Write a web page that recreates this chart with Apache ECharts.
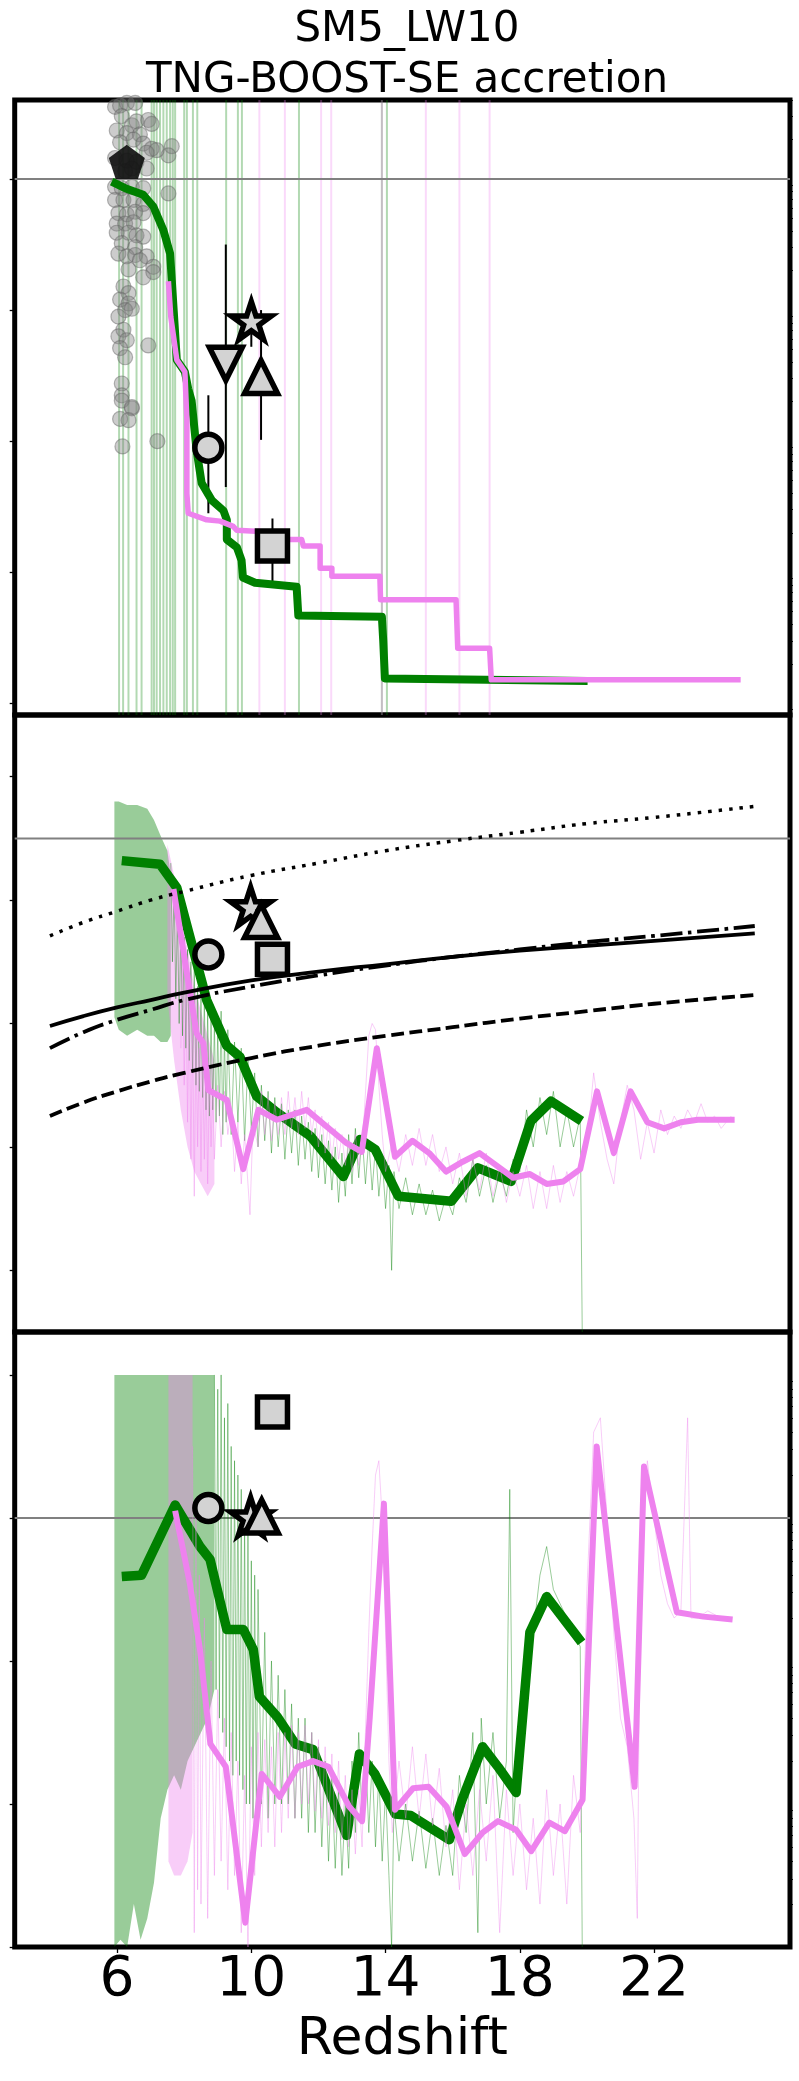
<!DOCTYPE html>
<html><head><meta charset="utf-8">
<script src="https://cdn.jsdelivr.net/npm/echarts@6/dist/echarts.min.js"></script>
<style>html,body{margin:0;padding:0;background:#fff}#c{width:799px;height:2081px}</style>
</head><body><div id="c"></div>
<script>
// ---------------- DATA ----------------
const titleLines = ['SM5_LW10', 'TNG-BOOST-SE accretion'];
const xTickLabels = [6, 10, 14, 18, 22];
const xLabel = 'Redshift';

// Panel 1 (log BH mass)
const refLine1 = 8;
const vGreen1 = [6.06,6.18,6.34,6.58,6.73,7.03,7.1,7.18,7.28,7.38,7.48,7.58,7.66,7.73,8.0,8.08,8.26,8.39,9.25,9.6,9.72,11.42,13.89,14.04];
const vViolet1 = [10.24,11.0,12.08,12.38,13.89,15.2,16.2,17.1];
const scatZ1 = [5.94,6.09,6.29,6.54,6.14,6.44,6.58,6.93,7.03,5.99,6.29,6.68,6.09,6.49,6.78,7.03,7.63,7.53,7.18,6.88,5.94,6.29,6.58,6.88,6.24,6.44,5.94,6.14,6.44,6.78,7.53,5.94,6.19,6.49,6.78,6.04,6.29,6.54,6.78,5.99,6.24,6.49,5.99,6.34,6.58,6.78,6.14,6.54,6.04,6.29,6.54,6.88,7.08,6.34,6.78,7.08,6.68,6.19,6.34,6.09,6.34,6.24,6.44,6.04,6.19,6.04,6.29,6.09,6.24,6.93,6.14,6.14,6.44,6.09,6.14,6.44,6.34,6.16,7.20];
const scatY1 = [8.55,8.56,8.58,8.58,8.48,8.41,8.44,8.45,8.42,8.37,8.35,8.34,8.28,8.30,8.27,8.23,8.25,8.18,8.22,8.20,8.16,8.14,8.13,8.08,8.06,8.08,7.94,7.93,7.94,7.93,7.89,7.84,7.84,7.84,7.81,7.74,7.73,7.75,7.74,7.66,7.66,7.67,7.59,7.59,7.57,7.56,7.51,7.48,7.43,7.41,7.42,7.41,7.33,7.31,7.25,7.29,7.38,7.18,7.13,7.08,7.05,7.00,7.01,6.95,6.85,6.80,6.77,6.71,6.64,6.73,6.44,6.35,6.25,6.17,6.31,6.26,6.16,5.96,6.00];
const green1 = [[5.84,7.98],[6.24,7.93],[6.78,7.88],[7.08,7.79],[7.38,7.61],[7.58,7.43],[7.63,7.23],[7.78,6.62],[8.02,6.53],[8.12,6.4],[8.22,6.31],[8.37,5.93],[8.52,5.68],[8.82,5.55],[9.17,5.47],[9.27,5.40],[9.27,5.25],[9.57,5.19],[9.71,5.09],[9.75,4.96],[10.11,4.92],[11.35,4.89],[11.4,4.67],[13.89,4.66],[13.93,4.48],[13.98,4.19],[20.02,4.17]];
const violet1 = [[7.53,7.22],[7.6,6.95],[7.78,6.62],[8.02,6.53],[8.08,6.16],[8.08,5.6],[8.12,5.45],[8.67,5.40],[9.07,5.39],[9.46,5.35],[9.57,5.32],[10.26,5.31],[10.9,5.29],[10.95,5.25],[11.5,5.25],[11.55,5.2],[12.05,5.2],[12.05,5.03],[12.4,5.03],[12.4,4.97],[13.83,4.97],[13.85,4.79],[16.1,4.79],[16.15,4.42],[17.1,4.42],[17.15,4.18],[24.58,4.18]];
// markers: circle, downTriangle, star, upTriangle, square, pentagon
const mkZ1 = [8.72, 9.24, 10.0, 10.29, 10.63, 6.29];
const mkY1 = [5.95, 6.59, 6.92, 6.49, 5.20, 8.13];
const errLo1 = [5.45, 5.65, 6.72, 6.01, 4.91, null];
const errHi1 = [6.35, 7.50, 7.10, 7.00, 5.41, null];

// Panel 2
const refLine2 = 3.5;
const curveZ = [4,5,6,7,8,10,12,14,16,18,20,22,25];
const curveSolid = [1.98,2.06,2.13,2.19,2.25,2.35,2.42,2.48,2.54,2.59,2.63,2.67,2.73];
const curveDashDot = [1.80,1.93,2.03,2.11,2.19,2.30,2.39,2.47,2.54,2.60,2.66,2.71,2.79];
const curveDotted = [2.71,2.82,2.91,3.00,3.07,3.20,3.30,3.40,3.48,3.55,3.62,3.67,3.76];
const curveDashed = [1.25,1.36,1.45,1.53,1.60,1.72,1.82,1.90,1.97,2.04,2.10,2.16,2.23];
const green2 = [[6.14,3.32],[7.28,3.29],[7.78,3.10],[8.67,2.19],[9.27,1.82],[9.66,1.73],[10.16,1.41],[10.76,1.28],[11.75,1.09],[12.74,0.76],[13.24,1.06],[13.69,0.98],[14.38,0.60],[15.96,0.56],[16.75,0.83],[17.74,0.72],[18.33,1.21],[18.93,1.37],[19.84,1.21]];
const violet2 = [[7.68,3.09],[8.37,1.92],[8.57,1.84],[8.72,1.46],[9.27,1.38],[9.76,0.82],[10.21,1.30],[10.76,1.22],[11.65,1.30],[12.84,1.03],[13.29,0.96],[13.74,1.80],[14.28,0.92],[14.8,1.05],[15.3,0.95],[15.8,0.8],[16.3,0.88],[16.8,0.95],[17.3,0.85],[17.8,0.75],[18.3,0.78],[18.8,0.7],[19.3,0.72],[19.8,0.82],[20.3,1.45],[20.8,0.95],[21.3,1.45],[21.8,1.2],[22.3,1.15],[22.8,1.2],[23.3,1.22],[23.8,1.22],[24.4,1.22]];
const gBandZ2 = [5.92,6.05,6.3,6.6,6.9,7.1,7.3,7.5,7.6];
const gBandHi2 = [3.80,3.80,3.77,3.77,3.74,3.65,3.52,3.40,3.2];
const gBandLo2 = [2.05,1.95,1.90,1.95,1.90,1.90,1.85,1.85,1.90];
const vBandZ2 = [7.5,7.7,7.9,8.1,8.3,8.5,8.7,8.9];
const vBandHi2 = [3.45,3.2,2.9,2.6,2.3,2.1,1.9,1.7];
const vBandLo2 = [2.2,1.7,1.3,1.0,0.8,0.7,0.6,0.7];
const gNoise2 = [[7.6,3.3],[7.65,2.5],[7.7,3.1],[7.75,2.2],[7.8,2.9],[7.85,2.0],[7.9,2.8],[7.95,1.9],[8.0,2.7],[8.05,1.8],[8.1,2.6],[8.15,1.7],[8.2,2.5],[8.25,1.6],[8.3,2.45],[8.35,1.5],[8.4,2.3],[8.45,1.45],[8.5,2.2],[8.55,1.4],[8.6,2.2],[8.65,1.3],[8.7,2.1],[8.75,1.25],[8.8,2.05],[8.85,1.3],[8.9,2.0],[8.95,1.2],[9.0,1.95],[9.05,1.25],[9.1,2.1],[9.15,1.1],[9.2,1.9],[9.25,1.2],[9.3,1.95],[9.4,1.1],[9.5,1.85],[9.6,1.2],[9.7,1.8],[9.8,1.05],[9.9,1.7],[10.0,1.15],[10.1,1.6],[10.2,1.0],[10.3,1.5],[10.4,1.05],[10.5,1.45],[10.6,0.95],[10.7,1.4],[10.8,1.0],[10.9,1.35],[11.0,0.9],[11.1,1.3],[11.2,0.95],[11.3,1.3],[11.4,0.85],[11.5,1.25],[11.6,0.9],[11.7,1.2],[11.8,0.8],[11.9,1.15],[12.0,0.75],[12.1,1.1],[12.2,0.7],[12.3,1.05],[12.4,0.65],[12.5,1.0],[12.6,0.55],[12.7,0.95],[12.8,0.6],[12.9,1.1],[13.0,0.7],[13.1,1.15],[13.2,0.75],[13.3,1.1],[13.4,0.7],[13.5,1.05],[13.6,0.65],[13.7,1.0],[13.8,0.6],[13.9,0.9],[14.0,0.5],[14.1,0.85],[14.18,0.0],[14.25,0.8],[14.4,0.5],[14.6,0.75],[14.8,0.45],[15.0,0.7],[15.2,0.45],[15.4,0.65],[15.6,0.4],[15.8,0.6],[16.0,0.45],[16.2,0.75],[16.4,0.55],[16.6,0.9],[16.8,0.6],[17.0,0.85],[17.2,0.55],[17.4,0.8],[17.6,0.6],[17.8,0.9],[18.0,0.8],[18.2,1.3],[18.4,1.0],[18.6,1.4],[18.8,1.1],[19.0,1.45],[19.2,1.0],[19.4,1.3],[19.6,1.0],[19.8,1.25],[19.86,-0.5]];
const vNoise2 = [[7.9,1.8],[7.95,2.6],[8.0,1.5],[8.05,2.4],[8.1,1.2],[8.15,2.2],[8.2,0.9],[8.25,2.0],[8.3,0.6],[8.35,1.9],[8.4,1.0],[8.45,1.8],[8.5,0.8],[8.55,1.7],[8.6,0.9],[8.65,1.6],[8.7,0.7],[8.75,1.5],[8.8,1.0],[8.85,1.45],[8.9,0.9],[9.0,1.5],[9.1,1.0],[9.2,1.45],[9.3,1.1],[9.4,1.3],[9.5,0.8],[9.6,1.2],[9.7,0.7],[9.8,1.1],[9.9,0.7],[9.96,0.45],[10.05,1.2],[10.2,1.0],[10.3,1.45],[10.4,1.1],[10.5,1.4],[10.6,1.05],[10.7,1.35],[10.8,1.1],[10.9,1.4],[11.0,1.1],[11.1,1.45],[11.2,1.15],[11.3,1.4],[11.4,1.1],[11.5,1.45],[11.6,1.15],[11.7,1.4],[11.8,1.1],[11.9,1.3],[12.0,1.0],[12.1,1.25],[12.2,0.95],[12.3,1.2],[12.4,0.9],[12.5,1.15],[12.6,0.9],[12.7,1.1],[12.8,0.85],[12.9,1.05],[13.0,0.8],[13.1,1.1],[13.2,0.85],[13.35,1.2],[13.5,1.9],[13.6,2.0],[13.7,1.95],[13.8,1.5],[13.9,1.1],[14.0,0.8],[14.2,1.05],[14.4,0.8],[14.6,1.1],[14.8,0.85],[15.0,1.15],[15.2,0.85],[15.4,1.1],[15.6,0.8],[15.8,1.0],[16.0,0.7],[16.2,0.95],[16.4,0.6],[16.6,0.9],[16.8,0.65],[17.0,0.95],[17.2,0.6],[17.4,0.85],[17.6,0.55],[17.8,0.8],[18.0,0.6],[18.2,0.85],[18.4,0.5],[18.6,0.8],[18.8,0.5],[19.0,0.85],[19.2,0.55],[19.4,0.8],[19.6,0.6],[19.8,0.85],[20.0,1.0],[20.2,1.6],[20.4,1.2],[20.6,0.9],[20.8,0.7],[21.0,1.2],[21.2,1.5],[21.4,1.3],[21.6,0.9],[21.8,1.2],[22.0,0.95],[22.2,1.3],[22.4,1.1],[22.6,1.25],[22.8,1.15],[23.0,1.3],[23.2,1.2],[23.4,1.35],[23.6,1.2],[23.8,1.25],[24.0,1.15],[24.3,1.25]];
// markers: circle, star, upTriangle, square
const mkZ2 = [8.72, 9.98, 10.29, 10.63];
const mkY2 = [2.56, 2.95, 2.83, 2.52];

// Panel 3
const refLine3 = 3;
const green3 = [[6.14,2.59],[6.73,2.60],[7.73,3.09],[8.47,2.80],[8.77,2.71],[9.27,2.22],[9.76,2.22],[10.06,2.08],[10.24,1.75],[10.77,1.61],[11.31,1.42],[11.84,1.38],[12.84,0.78],[13.22,1.35],[13.68,1.21],[14.29,0.93],[14.75,0.92],[15.90,0.75],[16.28,1.03],[16.89,1.40],[17.35,1.26],[17.89,1.08],[18.3,2.2],[18.8,2.45],[19.84,2.13]];
const violet3 = [[7.73,3.05],[8.17,2.54],[8.47,2.08],[8.78,1.42],[9.24,1.26],[9.82,0.17],[10.31,1.21],[10.85,1.05],[11.38,1.26],[11.84,1.30],[12.30,1.26],[12.92,0.98],[13.30,0.88],[13.53,1.61],[13.95,3.1],[14.28,0.96],[14.82,1.11],[15.28,1.12],[15.82,0.98],[16.36,0.65],[16.89,0.80],[17.35,0.88],[17.89,0.82],[18.34,0.67],[18.88,0.87],[19.34,0.81],[19.87,1.03],[20.29,3.50],[21.42,1.12],[21.7,3.36],[22.68,2.34],[23.47,2.31],[24.34,2.29]];
const gBandZ3 = [5.92,6.1,6.3,6.5,6.7,6.9,7.1,7.3,7.5,7.7,7.9,8.1,8.3,8.5,8.7,8.9];
const gBandHi3 = [4.0,4.0,4.0,4.0,4.0,4.0,4.0,4.0,4.0,4.0,4.0,4.0,4.0,4.0,4.0,4.0];
const gBandLo3 = [0.0,0.05,0.0,0.3,0.05,0.2,0.45,0.9,1.1,1.2,1.1,1.3,1.4,1.5,1.6,1.8];
const vBandZ3 = [7.53,7.7,7.9,8.1,8.25];
const vBandHi3 = [4.0,4.0,4.0,4.0,4.0];
const vBandLo3 = [0.6,0.5,0.5,0.6,0.8];
const gNoise3 = [[8.9,4.0],[8.95,1.8],[9.0,3.9],[9.05,1.6],[9.1,4.0],[9.15,1.5],[9.2,3.7],[9.25,1.4],[9.3,3.8],[9.35,1.3],[9.4,3.5],[9.45,1.2],[9.5,3.4],[9.55,1.3],[9.6,3.3],[9.65,1.2],[9.7,3.2],[9.75,1.1],[9.8,3.0],[9.85,1.0],[9.9,2.9],[9.95,1.0],[10.0,2.7],[10.05,0.9],[10.1,2.6],[10.15,0.9],[10.2,2.5],[10.3,1.0],[10.4,2.2],[10.5,0.9],[10.6,2.0],[10.7,1.0],[10.8,1.9],[10.9,1.0],[11.0,1.8],[11.1,1.0],[11.2,1.7],[11.3,0.9],[11.4,1.6],[11.5,0.9],[11.6,1.6],[11.7,0.8],[11.8,1.5],[11.9,0.8],[12.0,1.4],[12.1,0.7],[12.2,1.3],[12.3,0.6],[12.4,1.2],[12.5,0.55],[12.6,1.1],[12.7,0.5],[12.8,1.0],[12.9,0.55],[13.0,1.3],[13.1,0.8],[13.2,1.5],[13.3,0.9],[13.4,1.4],[13.5,0.8],[13.6,1.3],[13.7,0.7],[13.8,1.2],[13.9,0.6],[14.0,1.1],[14.1,0.5],[14.18,0.0],[14.25,1.0],[14.4,0.6],[14.6,1.0],[14.8,0.6],[15.0,0.95],[15.2,0.55],[15.4,0.9],[15.6,0.5],[15.8,0.85],[16.0,0.5],[16.2,1.2],[16.4,0.8],[16.6,1.5],[16.75,0.1],[16.85,1.6],[17.0,1.0],[17.2,1.5],[17.4,0.9],[17.6,1.3],[17.7,3.2],[17.8,0.8],[18.0,1.6],[18.2,1.9],[18.4,2.2],[18.6,2.6],[18.8,2.8],[19.0,2.5],[19.2,2.4],[19.4,2.3],[19.6,2.2],[19.8,2.1],[19.86,0.0]];
const vNoise3 = [[8.25,3.5],[8.3,0.1],[8.35,3.0],[8.4,0.4],[8.45,2.6],[8.5,0.3],[8.6,2.3],[8.7,0.2],[8.8,2.0],[8.9,0.5],[9.0,1.8],[9.1,0.6],[9.2,1.6],[9.3,0.4],[9.4,1.5],[9.5,0.5],[9.6,1.3],[9.7,0.1],[9.8,1.2],[9.9,0.0],[10.0,1.4],[10.1,0.5],[10.2,1.5],[10.3,0.7],[10.4,1.45],[10.5,0.8],[10.6,1.4],[10.7,0.7],[10.8,1.5],[10.9,0.8],[11.0,1.5],[11.1,0.9],[11.2,1.55],[11.3,0.9],[11.4,1.5],[11.5,1.0],[11.6,1.55],[11.7,1.0],[11.8,1.5],[11.9,0.95],[12.0,1.45],[12.1,0.9],[12.2,1.4],[12.3,0.85],[12.4,1.35],[12.5,0.8],[12.6,1.3],[12.7,0.75],[12.8,1.2],[12.9,0.7],[13.0,1.1],[13.1,0.65],[13.2,1.1],[13.3,0.7],[13.4,1.5],[13.5,2.2],[13.6,2.8],[13.7,3.3],[13.8,3.4],[13.9,3.0],[14.0,2.2],[14.1,1.3],[14.2,0.8],[14.4,1.3],[14.6,0.9],[14.8,1.4],[15.0,0.9],[15.2,1.35],[15.4,0.85],[15.6,1.25],[15.8,0.7],[16.0,1.1],[16.2,0.4],[16.4,1.0],[16.6,0.5],[16.8,1.1],[17.0,0.6],[17.2,1.2],[17.4,0.1],[17.6,1.1],[17.8,0.5],[18.0,1.0],[18.2,0.4],[18.4,0.9],[18.6,0.3],[18.8,1.1],[19.0,0.5],[19.2,1.0],[19.4,0.3],[19.6,1.2],[19.8,0.8],[20.0,2.5],[20.2,3.6],[20.4,3.7],[20.6,3.0],[20.8,2.2],[21.0,1.6],[21.2,1.4],[21.4,0.9],[21.5,0.2],[21.6,2.8],[21.8,3.4],[22.0,3.0],[22.2,2.6],[22.4,2.4],[22.6,2.3],[22.8,2.35],[23.0,3.7],[23.1,2.3],[23.3,2.3],[23.6,2.35],[24.0,2.3],[24.3,2.3]];
// markers: circle, star, upTriangle, square
const mkZ3 = [8.72, 9.98, 10.31, 10.63];
const mkY3 = [3.07, 3.01, 3.01, 3.74];

// ---------------- STYLE / LAYOUT ----------------
const XMIN = 2.95, XMAX = 26.05;
const LEFT = 14.7, WIDTH = 775.3;
const gridBoxes = [{top:100,height:615},{top:715,height:617},{top:1332,height:615}];
const yRanges = [[3.911,8.6026],[-0.5,4.5],[0,4.3]];
const majorTicks = [[4,5,6,7,8],[0,1,2,3,4],[0,1,2,3,4]];
const GREEN = '#008000', VIOLET = '#ee82ee', LGRAY = '#d3d3d3';
const STAR = 'path://M0,-1L0.2245,-0.309L0.9511,-0.309L0.3633,0.118L0.5878,0.809L0,0.382L-0.5878,0.809L-0.3633,0.118L-0.9511,-0.309L-0.2245,-0.309Z';
const PENT = 'path://M0,-1L0.9511,-0.309L0.5878,0.809L-0.5878,0.809L-0.9511,-0.309Z';
const FONT = 'DejaVu Sans';

function minorLog(lo, hi){ const r=[]; for(let n=Math.floor(lo)-1;n<=Math.ceil(hi);n++){ for(let k=2;k<=9;k++){ const v=n+Math.log10(k); if(v>lo && v<hi) r.push(v);} } return r; }

const grid = gridBoxes.map(g => ({left:LEFT, width:WIDTH, top:g.top, height:g.height, show:true, borderColor:'#000', borderWidth:5, backgroundColor:'transparent', containLabel:false}));

const xAxis = [0,1,2].map(i => ({
  gridIndex:i, type:'value', min:XMIN, max:XMAX,
  axisLine:{show:false}, splitLine:{show:false},
  axisTick: i===2 ? {show:true, customValues:xTickLabels, length:6, inside:false, lineStyle:{color:'#000', width:1.3}} : {show:false},
  axisLabel: i===2 ? {show:true, customValues:xTickLabels, fontSize:55, lineHeight:55, margin:6, color:'#000', fontFamily:FONT} : {show:false},
  name: i===2 ? xLabel : '', nameLocation:'middle', nameGap:93,
  nameTextStyle:{fontSize:52, color:'#000', fontFamily:FONT, verticalAlign:'middle', lineHeight:52}
}));

const yAxis = [0,1,2].map(i => ({
  gridIndex:i, type:'value', min:yRanges[i][0], max:yRanges[i][1],
  axisLine:{show:false}, splitLine:{show:false}, axisLabel:{show:false},
  axisTick:{show:true, customValues:majorTicks[i], length:5, lineStyle:{color:'#000', width:1.3}}
}));
[0,2].forEach(i => yAxis.push({
  gridIndex:i, type:'value', min:yRanges[i][0], max:yRanges[i][1],
  axisLine:{show:false}, splitLine:{show:false}, axisLabel:{show:false},
  axisTick:{show:true, customValues:minorLog(yRanges[i][0], yRanges[i][1]), length:3, lineStyle:{color:'#000', width:0.9}}
}));

const series = [];
function line(gi, data, color, width, extra, smooth){
  return {type:'line', xAxisIndex:gi, yAxisIndex:gi, data:data, showSymbol:false, symbol:'none', silent:true, smooth:!!smooth,
    lineStyle:Object.assign({color:color, width:width, join:'round', cap:'butt'}, extra||{})};
}
function hline(gi, v){ return line(gi, [[XMIN,v],[XMAX,v]], '#808080', 2); }
function vlines(gi, zs, color, width){
  return {type:'custom', xAxisIndex:gi, yAxisIndex:gi, silent:true, data: zs.map(z => [z, yRanges[gi][0]]), encode:{x:0,y:1},
    renderItem:(params, api) => { const cs = params.coordSys; const x = api.coord([api.value(0), api.value(1)])[0];
      return {type:'line', shape:{x1:x, y1:cs.y, x2:x, y2:cs.y+cs.height}, style:{stroke:color, lineWidth:width}}; }};
}
function band(gi, zs, lo, hi, fill){
  return {type:'custom', xAxisIndex:gi, yAxisIndex:gi, silent:true, data: zs.map((z,i) => [z, lo[i], hi[i]]), encode:{x:0, y:[1,2]},
    renderItem:(params, api) => { if (params.dataIndex !== 0) return null; const pts = [];
      for (let i=0;i<zs.length;i++) pts.push(api.coord([zs[i], hi[i]]));
      for (let i=zs.length-1;i>=0;i--) pts.push(api.coord([zs[i], lo[i]]));
      return {type:'polygon', shape:{points:pts}, style:{fill:fill}}; }};
}
function errbars(gi, zs, lo, hi){
  const d = []; zs.forEach((z,i) => { if (lo[i] != null) d.push([z, lo[i], hi[i]]); });
  return {type:'custom', xAxisIndex:gi, yAxisIndex:gi, silent:true, data:d, encode:{x:0, y:[1,2]},
    renderItem:(params, api) => { const a = api.coord([api.value(0), api.value(1)]), b = api.coord([api.value(0), api.value(2)]);
      return {type:'line', shape:{x1:a[0], y1:a[1], x2:b[0], y2:b[1]}, style:{stroke:'#000', lineWidth:2}}; }};
}
const SYM = {
  circle:{symbol:'circle', symbolSize:27},
  downTriangle:{symbol:'triangle', symbolSize:33, symbolRotate:180},
  star:{symbol:STAR, symbolSize:40},
  upTriangle:{symbol:'triangle', symbolSize:33},
  square:{symbol:'rect', symbolSize:30},
  pentagon:{symbol:PENT, symbolSize:36}
};
function markers(gi, names, zs, ys){
  return {type:'scatter', xAxisIndex:gi, yAxisIndex:gi, silent:true, symbolKeepAspect:true, z:5,
    itemStyle:{opacity:1},
    data: names.map((n,i) => {
      const it = Object.assign({value:[zs[i], ys[i]]}, SYM[n]);
      it.itemStyle = n === 'pentagon' ? {color:'#111111', opacity:0.92, borderWidth:0} : {color:LGRAY, borderColor:'#000000', borderWidth:5.5, opacity:1};
      return it; })};
}

// Panel 1
series.push(hline(0, refLine1));
series.push(vlines(0, vGreen1, 'rgba(0,128,0,0.3)', 2));
series.push(vlines(0, vViolet1, 'rgba(238,130,238,0.3)', 2));
series.push({type:'scatter', xAxisIndex:0, yAxisIndex:0, silent:true, symbolSize:15, clip:true,
  data: scatZ1.map((z,i) => [z, scatY1[i]]), itemStyle:{color:'rgba(128,128,128,0.4)', borderColor:'rgba(100,100,100,0.45)', borderWidth:1.2, opacity:1}});
series.push(line(0, green1, GREEN, 8));
series.push(line(0, violet1, VIOLET, 5.5));
series.push(errbars(0, mkZ1, errLo1, errHi1));
series.push(markers(0, ['circle','downTriangle','star','upTriangle','square','pentagon'], mkZ1, mkY1));

// Panel 2
series.push(hline(1, refLine2));
series.push(line(1, green2, GREEN, 9.5));
series.push(band(1, gBandZ2, gBandLo2, gBandHi2, 'rgba(0,128,0,0.4)'));
series.push(line(1, gNoise2, 'rgba(0,128,0,0.4)', 1));
series.push(band(1, vBandZ2, vBandLo2, vBandHi2, 'rgba(238,130,238,0.4)'));
series.push(line(1, vNoise2, 'rgba(238,130,238,0.4)', 1));
series.push(line(1, violet2, VIOLET, 6));
series.push(line(1, curveZ.map((z,i)=>[z,curveSolid[i]]), '#000', 3.8, {type:'solid'}, true));
series.push(line(1, curveZ.map((z,i)=>[z,curveDashDot[i]]), '#000', 3.8, {type:[22,5.6,3.5,5.6]}, true));
series.push(line(1, curveZ.map((z,i)=>[z,curveDotted[i]]), '#000', 3.5, {type:[3.5,7]}, true));
series.push(line(1, curveZ.map((z,i)=>[z,curveDashed[i]]), '#000', 3.8, {type:[13,5.5]}, true));
series.push(markers(1, ['circle','star','upTriangle','square'], mkZ2, mkY2));

// Panel 3
series.push(hline(2, refLine3));
series.push(line(2, green3, GREEN, 9.5));
series.push(band(2, gBandZ3, gBandLo3, gBandHi3, 'rgba(0,128,0,0.4)'));
series.push(line(2, gNoise3, 'rgba(0,128,0,0.4)', 1));
series.push(band(2, vBandZ3, vBandLo3, vBandHi3, 'rgba(238,130,238,0.4)'));
series.push(line(2, vNoise3, 'rgba(238,130,238,0.4)', 1));
series.push(line(2, violet3, VIOLET, 6));
series.push(markers(2, ['circle','star','upTriangle','square'], mkZ3, mkY3));

const chart = echarts.init(document.getElementById('c'), null, {renderer:'canvas', width:799, height:2081});
chart.setOption({
  animation:false,
  backgroundColor:'#fff',
  title:{text:titleLines.join('\n'), left:402, top:0, textAlign:'center',
    textStyle:{fontSize:42, lineHeight:51, fontWeight:'normal', fontFamily:FONT, color:'#000'}},
  grid:grid, xAxis:xAxis, yAxis:yAxis, series:series
});
</script></body></html>
